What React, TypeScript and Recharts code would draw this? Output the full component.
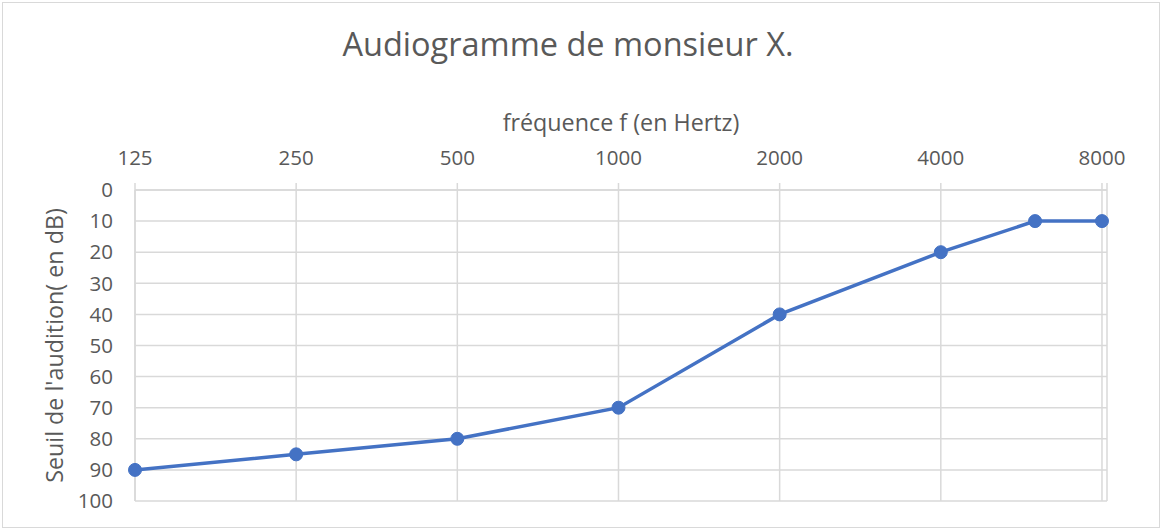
import {
  ComposedChart,
  Line,
  XAxis,
  YAxis,
  CartesianGrid,
} from 'recharts';

const frequencies = [125, 250, 500, 1000, 2000, 4000, 6000, 8000];
const thresholds = [90, 85, 80, 70, 40, 20, 10, 10];
const freqTicks = [125, 250, 500, 1000, 2000, 4000, 8000, 8175];
const dbTicks = [0, 10, 20, 30, 40, 50, 60, 70, 80, 90, 100];

const data = frequencies.map((f, i) => ({ f, db: thresholds[i] }));

const TEXT = '#595959';
const GRID = '#d9d9d9';
const BLUE = '#4472c4';
const FONT = '"Open Sans", sans-serif';

export default function App() {
  return (
    <div
      style={{
        position: 'absolute',
        left: 0,
        top: 0,
        width: 1162,
        height: 529,
        background: '#fff',
        fontFamily: FONT,
      }}
    >
      <div
        style={{
          position: 'absolute',
          left: 2,
          top: 2,
          width: 1156,
          height: 524,
          border: '1px solid #d9d9d9',
        }}
      />
      <div
        style={{
          position: 'absolute',
          left: 0,
          width: 1136,
          top: 24,
          textAlign: 'center',
          fontSize: 32.5,
          color: TEXT,
          lineHeight: '40px',
        }}
      >
        Audiogramme de monsieur X.
      </div>
      <div style={{ position: 'absolute', left: 0, top: 0 }}>
        <ComposedChart
          width={1162}
          height={529}
          data={data}
          margin={{ top: 0, right: 55, bottom: 28, left: 10 }}
        >
          <CartesianGrid stroke={GRID} strokeWidth={1.5} />
          <XAxis
            xAxisId={0}
            dataKey="f"
            type="number"
            scale="log"
            domain={[125, 8175]}
            ticks={freqTicks}
            interval={0}
            orientation="top"
            height={190}
            tickFormatter={(v) => (v === 8175 ? '' : String(v))}
            tick={{ fontSize: 20.5, fill: TEXT, fontFamily: FONT }}
            tickSize={7}
            tickMargin={18}
            stroke={GRID}
            strokeWidth={1.5}
            label={{
              value: 'fréquence f (en Hertz)',
              position: 'insideTop',
              offset: 114,
              fontSize: 23.3,
              fill: TEXT,
              fontFamily: FONT,
            }}
          />
          <YAxis
            yAxisId={0}
            type="number"
            domain={[0, 100]}
            ticks={dbTicks}
            reversed
            width={125}
            tick={{ fontSize: 20.5, fill: TEXT, fontFamily: FONT }}
            tickLine={false}
            tickMargin={16}
            stroke={GRID}
            strokeWidth={1.5}
            label={{
              value: "Seuil de l'audition( en dB)",
              angle: -90,
              position: 'insideLeft',
              offset: 45,
              style: { textAnchor: 'middle' },
              fontSize: 23.3,
              fill: TEXT,
              fontFamily: FONT,
            }}
          />
          <Line
            dataKey="db"
            stroke={BLUE}
            strokeWidth={3.5}
            dot={{ r: 6.5, fill: BLUE, stroke: BLUE, strokeWidth: 1 }}
            isAnimationActive={false}
          />
        </ComposedChart>
      </div>
    </div>
  );
}
